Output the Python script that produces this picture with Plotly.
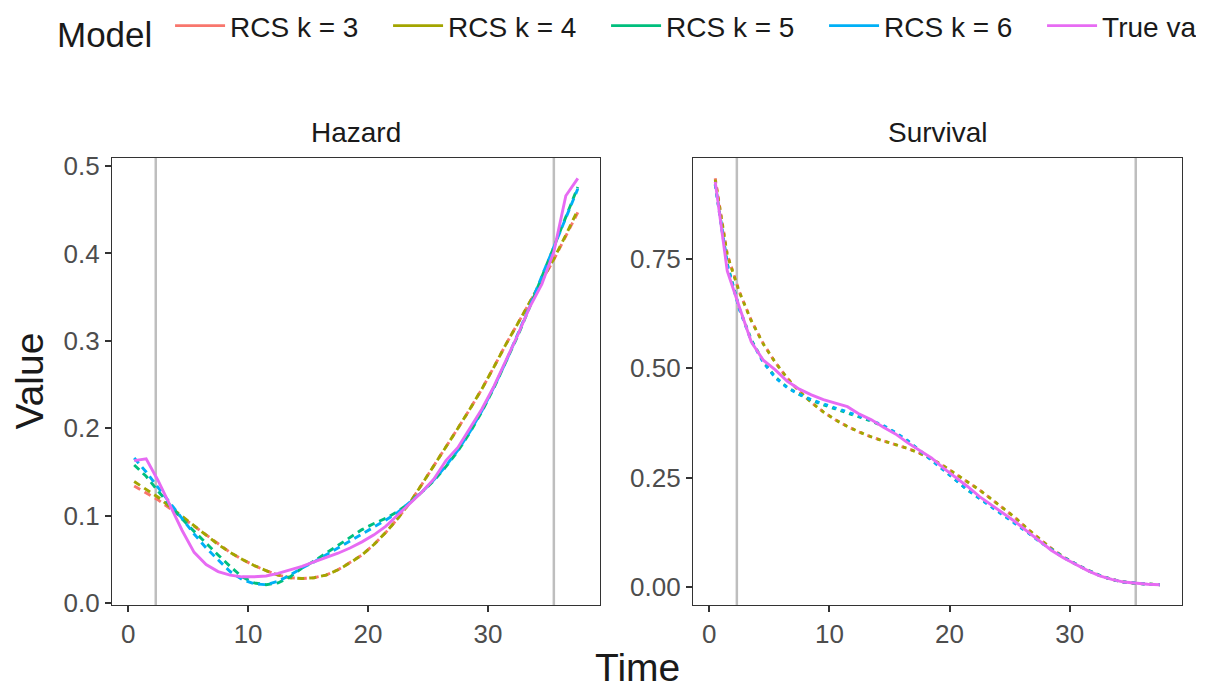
import plotly.graph_objects as go

# ---------------- data ----------------
time = [0.5 + i for i in range(38)]
knots = [2.3, 35.5]
models = ["RCS k = 3", "RCS k = 4", "RCS k = 5", "RCS k = 6", "True values"]
colors = ["#F8766D", "#A3A500", "#00BF7D", "#00B0F6", "#E76BF3"]

haz_k3 = [0.134, 0.126, 0.118, 0.108, 0.098, 0.087, 0.077, 0.067, 0.058, 0.050,
          0.043, 0.037, 0.032, 0.029, 0.028, 0.029, 0.032, 0.038, 0.046, 0.055,
          0.067, 0.081, 0.097, 0.115, 0.136, 0.157, 0.178, 0.200, 0.222, 0.245,
          0.270, 0.296, 0.320, 0.344, 0.368, 0.393, 0.420, 0.447]
haz_k4 = [0.139, 0.130, 0.121, 0.110, 0.099, 0.088, 0.077, 0.067, 0.058, 0.050,
          0.043, 0.037, 0.032, 0.029, 0.028, 0.029, 0.032, 0.038, 0.046, 0.055,
          0.067, 0.081, 0.097, 0.115, 0.136, 0.157, 0.178, 0.200, 0.222, 0.245,
          0.270, 0.296, 0.320, 0.345, 0.369, 0.394, 0.421, 0.450]
haz_k5 = [0.158, 0.145, 0.128, 0.112, 0.096, 0.082, 0.068, 0.055, 0.042, 0.030,
          0.023, 0.021, 0.023, 0.030, 0.040, 0.048, 0.057, 0.066, 0.075, 0.084,
          0.091, 0.097, 0.105, 0.115, 0.127, 0.140, 0.156, 0.174, 0.195, 0.219,
          0.246, 0.275, 0.306, 0.339, 0.373, 0.407, 0.442, 0.476]
haz_k6 = [0.166, 0.150, 0.132, 0.114, 0.096, 0.079, 0.063, 0.049, 0.036, 0.027,
          0.022, 0.021, 0.025, 0.032, 0.040, 0.047, 0.055, 0.063, 0.071, 0.079,
          0.087, 0.095, 0.104, 0.115, 0.127, 0.141, 0.157, 0.175, 0.196, 0.220,
          0.247, 0.276, 0.307, 0.340, 0.374, 0.408, 0.442, 0.474]
haz_true = [0.163, 0.165, 0.140, 0.112, 0.083, 0.058, 0.044, 0.036, 0.032, 0.030,
            0.030, 0.031, 0.034, 0.038, 0.042, 0.047, 0.052, 0.057, 0.063, 0.070,
            0.078, 0.088, 0.101, 0.114, 0.127, 0.142, 0.163, 0.178, 0.200, 0.222,
            0.248, 0.277, 0.307, 0.339, 0.365, 0.402, 0.466, 0.486]

surv_k3 = [0.933, 0.760, 0.675, 0.609, 0.556, 0.513, 0.477, 0.447, 0.422, 0.400,
           0.382, 0.367, 0.354, 0.343, 0.334, 0.326, 0.317, 0.306, 0.293, 0.277,
           0.259, 0.240, 0.222, 0.201, 0.180, 0.158, 0.133, 0.110, 0.088, 0.069,
           0.053, 0.039, 0.027, 0.018, 0.012, 0.009, 0.007, 0.006]
surv_k4 = [0.930, 0.758, 0.674, 0.608, 0.555, 0.513, 0.477, 0.447, 0.422, 0.400,
           0.382, 0.367, 0.354, 0.343, 0.334, 0.326, 0.317, 0.306, 0.293, 0.277,
           0.259, 0.240, 0.222, 0.201, 0.180, 0.158, 0.133, 0.110, 0.088, 0.069,
           0.053, 0.039, 0.027, 0.018, 0.012, 0.009, 0.007, 0.006]
surv_k5 = [0.920, 0.738, 0.637, 0.565, 0.515, 0.480, 0.456, 0.440, 0.427, 0.416,
           0.407, 0.398, 0.389, 0.379, 0.367, 0.352, 0.334, 0.313, 0.291, 0.268,
           0.245, 0.222, 0.203, 0.183, 0.165, 0.146, 0.125, 0.104, 0.085, 0.068,
           0.053, 0.039, 0.027, 0.018, 0.012, 0.009, 0.007, 0.006]
surv_k6 = [0.918, 0.735, 0.635, 0.562, 0.513, 0.478, 0.455, 0.440, 0.428, 0.418,
           0.409, 0.400, 0.391, 0.381, 0.369, 0.353, 0.335, 0.313, 0.291, 0.268,
           0.245, 0.222, 0.203, 0.183, 0.165, 0.146, 0.125, 0.104, 0.085, 0.068,
           0.053, 0.039, 0.027, 0.018, 0.012, 0.009, 0.007, 0.006]
surv_true = [0.925, 0.722, 0.640, 0.560, 0.518, 0.496, 0.470, 0.452, 0.439, 0.428,
             0.420, 0.412, 0.395, 0.382, 0.365, 0.350, 0.330, 0.312, 0.295, 0.272,
             0.252, 0.230, 0.207, 0.188, 0.170, 0.149, 0.127, 0.105, 0.084, 0.067,
             0.052, 0.038, 0.026, 0.018, 0.012, 0.009, 0.007, 0.006]

panels = ["Hazard", "Survival"]
hazard = [haz_k3, haz_k4, haz_k5, haz_k6, haz_true]
survival = [surv_k3, surv_k4, surv_k5, surv_k6, surv_true]

# ---------------- style ----------------
OFF = 8  # page body margin in the browser
W, H = 1212 - 2 * OFF, 688 - OFF
FONT = "Liberation Sans, Arial, Helvetica, sans-serif"
INK = "#1A1A1A"
TICK = "#4D4D4D"
FRAME = "#333333"
TICK_SIZE = 26
SMALL = 28
LEG_TITLE = 35
AX_TITLE = 39


def px_x(p):
    return (p - OFF) / W


def px_y(p):
    return 1 - (p - OFF) / H


def expand(vals, frac=0.05):
    lo, hi = min(vals), max(vals)
    d = (hi - lo) * frac
    return [lo - d, hi + d]


fig = go.Figure()

dash_styles = {"Hazard": "7px,5px", "Survival": "4px,5px"}
for pi, (pname, series) in enumerate(zip(panels, [hazard, survival])):
    xa = "x" if pi == 0 else "x2"
    ya = "y" if pi == 0 else "y2"
    for name, col, vals in zip(models, colors, series):
        is_true = name == "True values"
        fig.add_trace(go.Scatter(
            x=time, y=vals, mode="lines", name=name,
            xaxis=xa, yaxis=ya, showlegend=False,
            line=dict(color=col, width=2.9,
                      dash="solid" if is_true else dash_styles[pname]),
        ))
    for k in knots:
        fig.add_shape(type="line", xref=xa, yref=f"{ya} domain",
                      x0=k, x1=k, y0=0, y1=1, layer="below",
                      line=dict(color="#BEBEBE", width=2.5))

# legend-only entries (solid keys); the last entry runs off the edge as in the source
legend_widths = [153, 153, 153, 153, 88]
for name, col, lw in zip(models, colors, legend_widths):
    fig.add_trace(go.Scatter(x=[None], y=[None], mode="lines", name=name,
                             line=dict(color=col, width=2.8), showlegend=True,
                             legendwidth=lw))

all_t = time
haz_all = [v for s in hazard for v in s]
surv_all = [v for s in survival for v in s]

axis_common = dict(
    showline=True, mirror=True, linecolor=FRAME, linewidth=1.3,
    ticks="outside", ticklen=6, tickwidth=1.6, tickcolor=FRAME,
    showgrid=False, zeroline=False,
    tickfont=dict(family=FONT, size=TICK_SIZE, color=TICK),
)

x_dom1 = [px_x(112), px_x(600)]
x_dom2 = [px_x(693), px_x(1182)]
y_dom = [px_y(605), px_y(158)]

fig.update_layout(
    width=W, height=H,
    margin=dict(l=0, r=0, t=0, b=0, autoexpand=False),
    paper_bgcolor="white", plot_bgcolor="white",
    font=dict(family=FONT, color=INK),
    xaxis=dict(domain=x_dom1, range=expand(all_t), anchor="y",
               tickvals=[0, 10, 20, 30], **axis_common),
    yaxis=dict(domain=y_dom, range=expand(haz_all), anchor="x",
               tickvals=[0, 0.1, 0.2, 0.3, 0.4, 0.5], tickformat=".1f",
               **axis_common),
    xaxis2=dict(domain=x_dom2, range=expand(all_t), anchor="y2",
                tickvals=[0, 10, 20, 30], **axis_common),
    yaxis2=dict(domain=y_dom, range=expand(surv_all), anchor="x2",
                tickvals=[0, 0.25, 0.5, 0.75], tickformat=".2f",
                **axis_common),
    legend=dict(
        orientation="h", x=px_x(55), xanchor="left",
        y=px_y(29), yanchor="middle",
        title=dict(text="Model\u00a0", side="left",
                   font=dict(family=FONT, size=LEG_TITLE, color=INK)),
        font=dict(family=FONT, size=SMALL, color=INK),
        entrywidth=153, entrywidthmode="pixels",
        bgcolor="rgba(0,0,0,0)", traceorder="normal", itemwidth=50,
    ),
    annotations=[
        dict(text=panels[0], xref="paper", yref="paper",
             x=(x_dom1[0] + x_dom1[1]) / 2, y=px_y(132),
             xanchor="center", yanchor="middle",
             showarrow=False, font=dict(family=FONT, size=SMALL, color=INK)),
        dict(text=panels[1], xref="paper", yref="paper",
             x=(x_dom2[0] + x_dom2[1]) / 2, y=px_y(132),
             xanchor="center", yanchor="middle",
             showarrow=False, font=dict(family=FONT, size=SMALL, color=INK)),
        dict(text="Value", xref="paper", yref="paper",
             x=px_x(29), y=(y_dom[0] + y_dom[1]) / 2, textangle=-90,
             xanchor="center", yanchor="middle",
             showarrow=False, font=dict(family=FONT, size=AX_TITLE, color=INK)),
        dict(text="Time", xref="paper", yref="paper",
             x=px_x(637), y=px_y(667),
             xanchor="center", yanchor="middle",
             showarrow=False, font=dict(family=FONT, size=AX_TITLE, color=INK)),
    ],
)

fig.write_html("out.html")
